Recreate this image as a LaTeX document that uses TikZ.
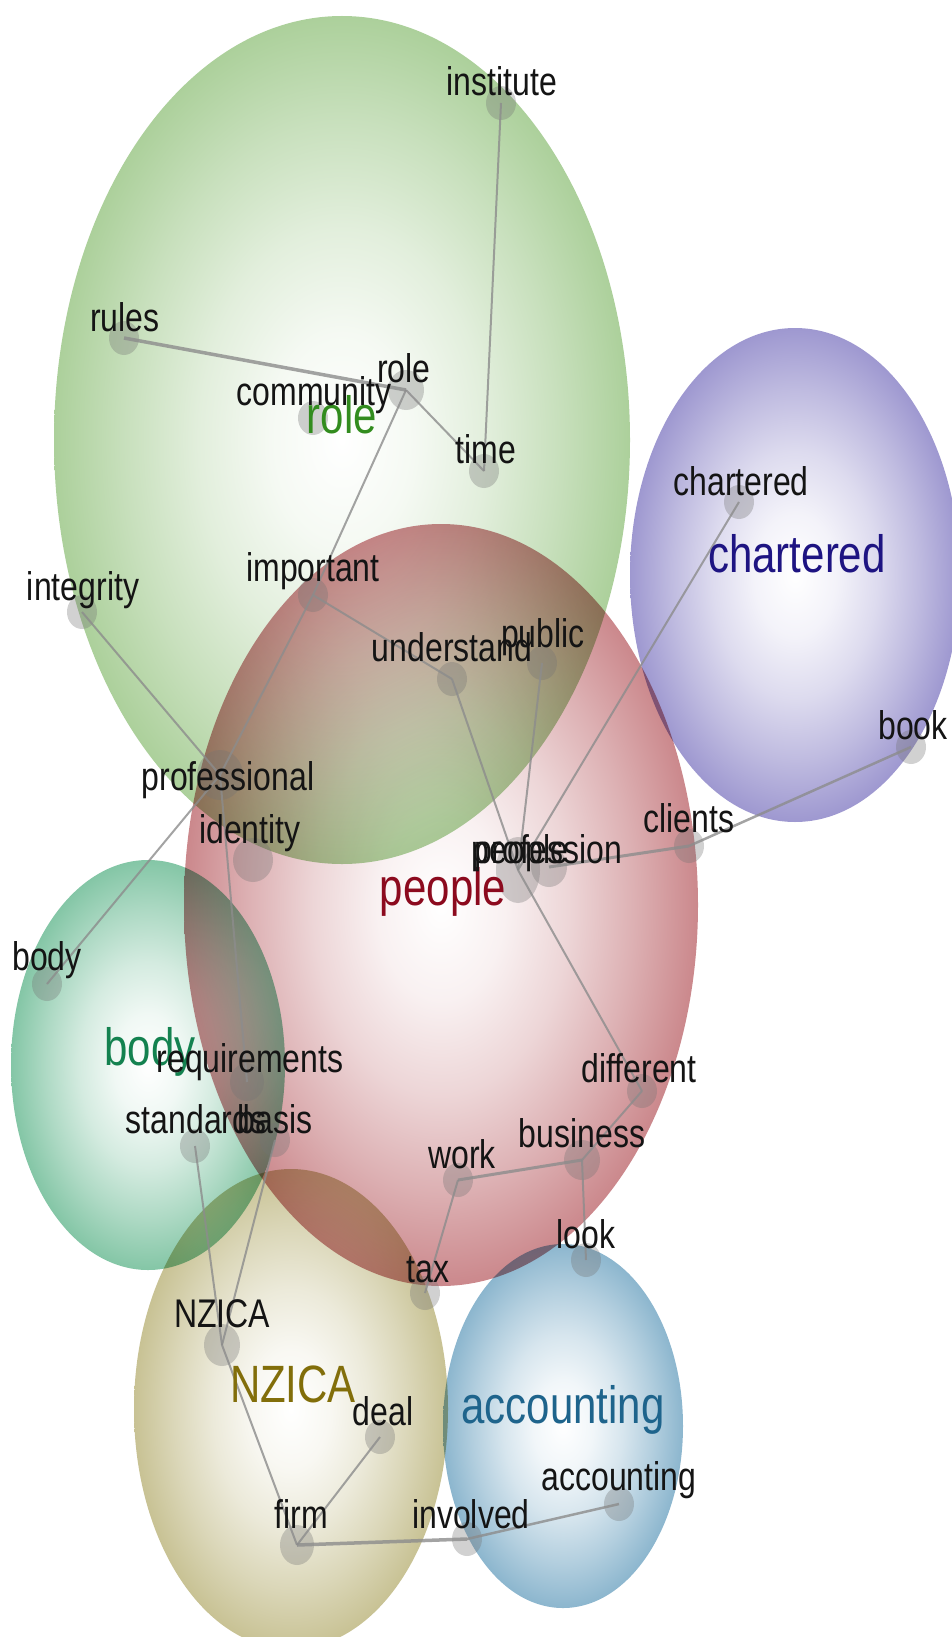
\documentclass[tikz,border=0pt]{standalone}
\usepackage{fontspec}
\setmainfont{Liberation Sans}
\usepackage{graphicx}
\usetikzlibrary{shapes.geometric}
\definecolor{greenT}{RGB}{172,208,155}
\definecolor{purpleT}{RGB}{158,152,208}
\definecolor{redT}{RGB}{203,136,140}
\definecolor{tealT}{RGB}{132,198,166}
\definecolor{tanT}{RGB}{200,194,148}
\definecolor{blueT}{RGB}{140,182,206}
\definecolor{roleC}{RGB}{50,140,30}
\definecolor{charteredC}{RGB}{30,20,130}
\definecolor{peopleC}{RGB}{140,10,30}
\definecolor{bodyC}{RGB}{20,130,80}
\definecolor{nzicaC}{RGB}{130,110,10}
\definecolor{accountingC}{RGB}{30,100,140}
\newcommand{\declthemeshade}[2]{\pgfdeclareradialshading{#1}{\pgfpoint{0bp}{0bp}}{color(0bp)=(white); color(6.25bp)=(#2!12!white); color(12.5bp)=(#2!35!white); color(18.75bp)=(#2!66!white); color(25bp)=(#2); color(50bp)=(#2)}}
\declthemeshade{shgreen}{greenT}
\declthemeshade{shpurple}{purpleT}
\declthemeshade{shred}{redT}
\declthemeshade{shteal}{tealT}
\declthemeshade{shtan}{tanT}
\declthemeshade{shblue}{blueT}
\newcommand{\vstr}[1]{\scalebox{1}[1.25]{#1}}
\tikzset{
  themeblob/.style={shading=#1, blend mode=multiply},
  dot/.style={ellipse, fill=black!55, fill opacity=0.33, draw=none, minimum width=30pt, minimum height=34pt, inner sep=0pt},
  link/.style={draw=black!45, line width=2pt, opacity=0.8},
  lab/.style={anchor=base, inner sep=0pt, font=\fontsize{32}{36}\selectfont, text=black!92},
  thlab/.style={anchor=base, inner sep=0pt, font=\fontsize{42}{48}\selectfont},
}
\begin{document}
\begin{tikzpicture}[x=1pt,y=-1pt]
\useasboundingbox (0,0) rectangle (952,1637);
% theme circles
\shade[themeblob=shgreen] (342,440) ellipse (288 and 424);
\shade[themeblob=shpurple] (795,575) ellipse (165 and 247);
\shade[themeblob=shred] (441,905) ellipse (257 and 381);
\shade[themeblob=shteal] (148,1065) ellipse (137 and 205);
\shade[themeblob=shtan] (291,1409) ellipse (157 and 240);
\shade[themeblob=shblue] (563,1426) ellipse (120 and 182);
% concept dots
\node[dot] (institute) at (501,103) {};
\node[dot] (rules) at (124,338) {};
\node[dot, minimum width=36pt, minimum height=40pt] (role) at (406,390) {};
\node[dot] (community) at (313,418) {};
\node[dot] (time) at (484,471) {};
\node[dot] (chartered) at (739,502) {};
\node[dot] (integrity) at (82,612) {};
\node[dot] (important) at (313,595) {};
\node[dot] (understand) at (452,679) {};
\node[dot] (public) at (542,663) {};
\node[dot] (book) at (911,747) {};
\node[dot, minimum width=46pt, minimum height=50pt] (professional) at (220,775) {};
\node[dot, minimum width=40pt, minimum height=44pt] (identity) at (253,860) {};
\node[dot] (clients) at (689,846) {};
\node[dot, minimum width=36pt, minimum height=40pt] (profession) at (549,867) {};
\node[dot, minimum width=44pt, minimum height=66pt] (people) at (518,870) {};
\node[dot] (body) at (47,984) {};
\node[dot, minimum width=34pt, minimum height=38pt] (requirements) at (247,1082) {};
\node[dot] (standards) at (195,1146) {};
\node[dot] (basis) at (275,1140) {};
\node[dot] (different) at (642,1091) {};
\node[dot, minimum width=36pt, minimum height=40pt] (business) at (582,1160) {};
\node[dot] (work) at (458,1180) {};
\node[dot] (look) at (586,1260) {};
\node[dot] (tax) at (425,1293) {};
\node[dot, minimum width=36pt, minimum height=42pt] (nzica) at (222,1345) {};
\node[dot] (deal) at (380,1437) {};
\node[dot] (accounting) at (619,1504) {};
\node[dot, minimum width=34pt, minimum height=40pt] (firm) at (297,1545) {};
\node[dot] (involved) at (467,1539) {};
% links
\draw[link] (institute.center) -- (time.center);
\draw[link, line width=3.5pt] (rules.center) -- (role.center);
\draw[link] (role.center) -- (time.center);
\draw[link] (role.center) -- (important.center);
\draw[link] (important.center) -- (understand.center);
\draw[link] (important.center) -- (professional.center);
\draw[link] (integrity.center) -- (professional.center);
\draw[link] (professional.center) -- (body.center);
\draw[link] (professional.center) -- (requirements.center);
\draw[link] (understand.center) -- (people.center);
\draw[link] (public.center) -- (people.center);
\draw[link] (chartered.center) -- (people.center);
\draw[link, line width=3pt] (profession.center) -- (clients.center);
\draw[link, line width=2.5pt] (clients.center) -- (book.center);
\draw[link] (people.center) -- (different.center);
\draw[link] (different.center) -- (business.center);
\draw[link, line width=3pt] (business.center) -- (work.center);
\draw[link] (business.center) -- (look.center);
\draw[link] (work.center) -- (tax.center);
\draw[link] (standards.center) -- (nzica.center);
\draw[link] (basis.center) -- (nzica.center);
\draw[link] (nzica.center) -- (firm.center);
\draw[link] (firm.center) -- (deal.center);
\draw[link, line width=3.5pt] (firm.center) -- (involved.center);
\draw[link, line width=2.5pt] (involved.center) -- (accounting.center);
% theme labels
\node[thlab, text=roleC] (th-role) at (342,433) {\vstr{role}};
\node[thlab, text=charteredC] (th-chartered) at (797,572) {\vstr{chartered}};
\node[thlab, text=peopleC] (th-people) at (443,905) {\vstr{people}};
\node[thlab, text=bodyC] (th-body) at (150,1065) {\vstr{body}};
\node[thlab, text=nzicaC] (th-nzica) at (293,1402) {\vstr{NZICA}};
\node[thlab, text=accountingC] (th-accounting) at (563,1423) {\vstr{accounting}};
% concept labels
\node[lab] (l-institute) at (502,96) {\vstr{institute}};
\node[lab] (l-rules) at (125,331) {\vstr{rules}};
\node[lab] (l-role) at (404,382) {\vstr{role}};
\node[lab] (l-community) at (314,405) {\vstr{community}};
\node[lab] (l-time) at (486,463) {\vstr{time}};
\node[lab] (l-chartered) at (741,495) {\vstr{chartered}};
\node[lab] (l-integrity) at (83,600) {\vstr{integrity}};
\node[lab] (l-important) at (313,581) {\vstr{important}};
\node[lab] (l-understand) at (452,661) {\vstr{understand}};
\node[lab] (l-public) at (543,647) {\vstr{public}};
\node[lab] (l-book) at (913,739) {\vstr{book}};
\node[lab] (l-professional) at (228,790) {\vstr{professional}};
\node[lab] (l-identity) at (250,843) {\vstr{identity}};
\node[lab] (l-clients) at (689,832) {\vstr{clients}};
\node[lab] (l-profession) at (548,863) {\vstr{profession}};
\node[lab] (l-people) at (520,863) {\vstr{people}};
\node[lab] (l-body) at (47,970) {\vstr{body}};
\node[lab] (l-requirements) at (250,1072) {\vstr{requirements}};
\node[lab] (l-standards) at (196,1133) {\vstr{standards}};
\node[lab] (l-basis) at (275,1133) {\vstr{basis}};
\node[lab] (l-different) at (639,1082) {\vstr{different}};
\node[lab] (l-business) at (582,1147) {\vstr{business}};
\node[lab] (l-work) at (462,1168) {\vstr{work}};
\node[lab] (l-look) at (586,1248) {\vstr{look}};
\node[lab] (l-tax) at (428,1282) {\vstr{tax}};
\node[lab] (l-nzica) at (222,1327) {\vstr{NZICA}};
\node[lab] (l-deal) at (383,1425) {\vstr{deal}};
\node[lab] (l-accounting) at (619,1490) {\vstr{accounting}};
\node[lab] (l-firm) at (301,1528) {\vstr{firm}};
\node[lab] (l-involved) at (471,1528) {\vstr{involved}};
\end{tikzpicture}
\end{document}
